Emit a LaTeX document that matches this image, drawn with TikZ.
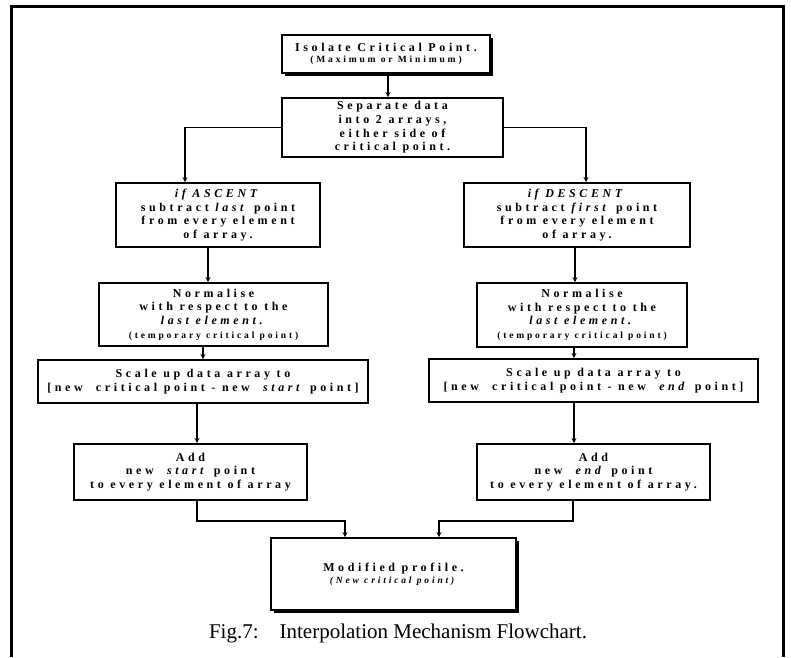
\documentclass[tikz,border=0pt]{standalone}
\usepackage{fontspec}
\setmainfont{Liberation Serif}
\newfontfamily\boxfont[LetterSpace=30]{Liberation Serif}
\usetikzlibrary{arrows.meta,shadows}
\tikzset{
  box/.style={draw, line width=1.8pt, rectangle, inner sep=0pt, align=center,
    font=\boxfont\fontsize{12}{13.6}\selectfont\bfseries},
  shadowbox/.style={box, fill=white, drop shadow={shadow xshift=2.5pt, shadow yshift=-2.5pt, fill=black, opacity=1}},
  arr/.style={line width=1.4pt, -{Stealth[length=5pt,width=5pt]}},
  frame/.style={line width=3pt}
}
\newcommand{\smalltxt}{\fontsize{9.5}{11}\selectfont}
\begin{document}
\begin{tikzpicture}[x=1pt,y=1pt]
\useasboundingbox (0,0) rectangle (791,-657);
\draw[frame] (11,-657) -- (11,-6) -- (783,-6) -- (783,-657);

\node[shadowbox, minimum width=208pt, minimum height=38pt] (b1) at (386,-54)
  {Isolate Critical Point.\\[-2pt]{\smalltxt(Maximum or Minimum)}};
\node[box, minimum width=221pt, minimum height=59pt] (b2) at (392.5,-127.5)
  {Separate data\\into 2 arrays,\\either side of\\critical point.};
\node[box, minimum width=204pt, minimum height=64pt] (b3L) at (218,-215)
  {\textit{if ASCENT}\\subtract \textit{last} point\\from every element\\of array.};
\node[box, minimum width=226pt, minimum height=64pt] (b3R) at (577,-215)
  {\textit{if DESCENT}\\subtract \textit{first} point\\from every element\\of array.};
\node[box, minimum width=229pt, minimum height=63pt] (b4L) at (213.5,-314.5)
  {Normalise\\with respect to the\\\textit{last element.}\\{\smalltxt(temporary critical point)}};
\node[box, minimum width=210pt, minimum height=64pt] (b4R) at (582,-315)
  {Normalise\\with respect to the\\\textit{last element.}\\{\smalltxt(temporary critical point)}};
\node[box, minimum width=330pt, minimum height=43pt] (b5L) at (203,-381.5)
  {Scale up data array to\\{[}new\ \ critical point - new\ \ \textit{start} point{]}};
\node[box, minimum width=329pt, minimum height=43pt] (b5R) at (593.5,-380.5)
  {Scale up data array to\\{[}new\ \ critical point - new\ \ \textit{end} point{]}};
\node[box, minimum width=233pt, minimum height=56pt] (b6L) at (190.5,-472)
  {Add\\new\ \ \textit{start} point\\to every element of array};
\node[box, minimum width=233pt, minimum height=56pt] (b6R) at (593.5,-472)
  {Add\\new\ \ \textit{end} point\\to every element of array.};
\node[shadowbox, minimum width=245pt, minimum height=72pt] (b7) at (393.5,-574)
  {Modified profile.\\[-2pt]{\smalltxt\textit{(New critical point)}}};
\node[font=\fontsize{21}{24}\selectfont] (cap) at (398,-633)
  {Fig.7:\hspace{1em}Interpolation Mechanism Flowchart.};

\coordinate (x388) at (388,0);
\coordinate (x185) at (185,0);
\coordinate (x586) at (586,0);
\coordinate (x208) at (208,0);
\coordinate (x575) at (575,0);
\coordinate (x203) at (203,0);
\coordinate (x574) at (574,0);
\coordinate (x197) at (197,0);
\coordinate (x345) at (345,0);
\coordinate (x439) at (439,0);
\coordinate (jl) at (197,-521);
\coordinate (jr) at (573,-521);

\draw[arr] (b1.south -| x388) -- (b2.north -| x388);
\draw[arr] (b2.west) -| (b3L.north -| x185);
\draw[arr] (b2.east) -| (b3R.north -| x586);
\draw[arr] (b3L.south -| x208) -- (b4L.north -| x208);
\draw[arr] (b3R.south -| x575) -- (b4R.north -| x575);
\draw[arr] (b4L.south -| x203) -- (b5L.north -| x203);
\draw[arr] (b4R.south -| x574) -- (b5R.north -| x574);
\draw[arr] (b5L.south -| x197) -- (b6L.north -| x197);
\draw[arr] (b5R.south -| x574) -- (b6R.north -| x574);
\draw[arr] (b6L.south -| jl) -- (jl) -| (b7.north -| x345);
\draw[arr] (b6R.south -| jr) -- (jr) -| (b7.north -| x439);
\end{tikzpicture}
\end{document}
